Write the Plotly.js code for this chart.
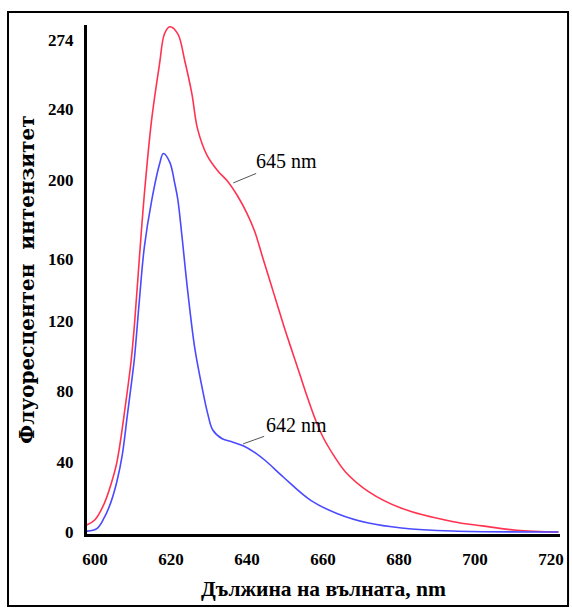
<!DOCTYPE html>
<html>
<head>
<meta charset="utf-8">
<script src="https://cdn.plot.ly/plotly-3.0.1.min.js"></script>
<style>html,body{margin:0;padding:0;background:#fff;}#chart{width:572px;height:609px;}</style>
</head>
<body>
<div id="chart"></div>
<script>
// Red curve (645 nm shoulder)
var redX = [597.8, 600, 602.4, 604.2, 605.8, 608.2, 609.5, 610.4, 611.7, 613, 614.9, 617, 618.3, 619.7, 621.8, 623.6, 625.5, 627, 629.5, 632.4, 635, 637.5, 640, 642, 644, 646, 648, 650, 652, 654, 656, 658, 660, 663, 666, 672, 680.7, 694, 702, 711, 722];
var redY = [4, 7, 16, 27, 40, 75, 97, 118, 156, 192, 234, 266, 283, 287, 283, 268, 249, 229, 214, 205, 199, 191, 181, 171, 157, 143, 129, 115, 102, 89, 76, 64, 54, 43, 34, 23, 13.5, 6, 3.5, 1, 0];
// Blue curve (642 nm shoulder)
var blueX = [597.8, 600.5, 602.4, 604.2, 605.8, 607.2, 608.5, 609.8, 610.4, 611.7, 613, 614.9, 617, 618, 619.7, 621, 621.8, 622.8, 624.4, 626.3, 628.2, 629.7, 631, 633.5, 636, 639, 642.2, 644.9, 649.7, 656.8, 664, 672, 680.7, 694, 722];
var blueY = [0.5, 2, 8, 17, 29, 44, 66, 88, 99, 132, 162, 188, 209, 215, 210, 198, 189, 170, 137, 104, 82, 67, 58, 53, 51.3, 49, 45, 40.5, 31, 18, 10.3, 5.1, 2.3, 0.6, 0];
// Tick labels
var xTickVals = [600, 620, 640, 660, 680, 700, 720];
var xTickText = ["600", "620", "640", "660", "680", "700", "720"];
var yTickVals = [0, 40, 80, 120, 155, 200, 240, 279.6];
var yTickText = ["0", "40", "80", "120", "160", "200", "240", "274"];
// Annotation labels
var labelText = ["645 nm", "642 nm"];
var labelX = [636.4, 639.0];
var labelY = [198.3, 50.1];

var serif = "Liberation Serif, Times New Roman, serif";

var traces = [
  {x: redX, y: redY, type: "scatter", mode: "lines", line: {color: "#ff3350", width: 1.6, shape: "spline", smoothing: 1}, hoverinfo: "skip"},
  {x: blueX, y: blueY, type: "scatter", mode: "lines", line: {color: "#4a4aff", width: 1.6, shape: "spline", smoothing: 1}, hoverinfo: "skip"}
];

var layout = {
  width: 572, height: 609,
  margin: {l: 87, r: 12, t: 25, b: 75},
  paper_bgcolor: "#fff", plot_bgcolor: "#fff",
  showlegend: false,
  font: {family: serif, color: "#000"},
  xaxis: {
    range: [597.9, 722.4], showgrid: false, zeroline: false,
    showline: true, linecolor: "#000", linewidth: 3,
    tickvals: xTickVals, ticktext: xTickText,
    ticks: "outside", ticklen: 8, tickcolor: "rgba(0,0,0,0)",
    tickfont: {family: serif, size: 17, weight: "bold", color: "#000"},
    title: {text: "Дължина на вълната, nm", font: {family: serif, size: 21.5, weight: "bold", color: "#000"}, standoff: 13}
  },
  yaxis: {
    range: [-1.1, 288], showgrid: false, zeroline: false,
    showline: true, linecolor: "#000", linewidth: 3,
    tickvals: yTickVals, ticktext: yTickText,
    ticks: "outside", ticklen: 7, tickcolor: "rgba(0,0,0,0)",
    tickfont: {family: serif, size: 17, weight: "bold", color: "#000"},
    title: {text: "Флуоресцентен  интензитет", font: {family: "DejaVu Serif, serif", size: 20, weight: "bold", color: "#000"}, standoff: 9}
  },
  annotations: [
    {x: labelX[0], y: labelY[0], xref: "x", yref: "y", text: labelText[0], showarrow: true, arrowhead: 0, arrowwidth: 1, arrowcolor: "#555", ax: 53, ay: -22, font: {family: serif, size: 20, color: "#000"}},
    {x: labelX[1], y: labelY[1], xref: "x", yref: "y", text: labelText[1], showarrow: true, arrowhead: 0, arrowwidth: 1, arrowcolor: "#555", ax: 53, ay: -19, font: {family: serif, size: 20, color: "#000"}}
  ],
  shapes: [
    {type: "rect", xref: "paper", yref: "paper", x0: -0.167, x1: 1.017, y0: -0.1415, y1: 1.0255, line: {color: "#000", width: 2}, fillcolor: "rgba(0,0,0,0)"}
  ]
};

Plotly.newPlot("chart", traces, layout, {displayModeBar: false, staticPlot: true});
</script>
</body>
</html>
